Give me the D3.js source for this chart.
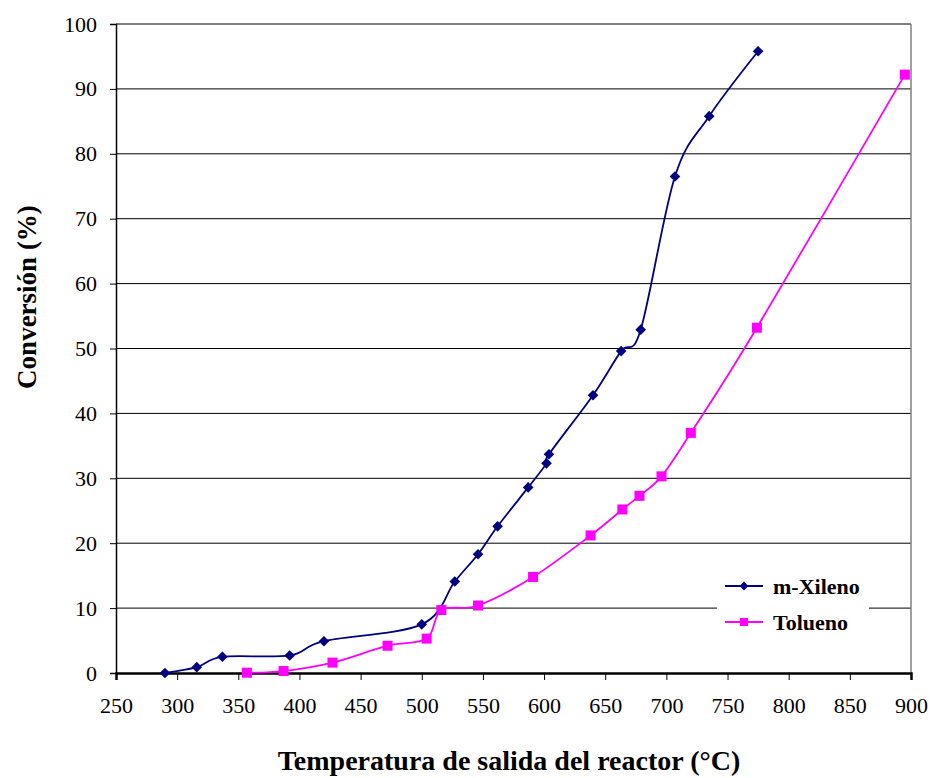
<!DOCTYPE html>
<html>
<head>
<meta charset="utf-8">
<script src="https://cdn.jsdelivr.net/npm/d3@7"></script>
<style>
	body { margin: 0; background: #fff; }
</style>
</head>
<body>
<svg></svg>
<script>
	// data
	var xilenoTemp = [290, 316, 337, 392, 420, 500, 527, 546, 562, 587, 602, 604, 640, 663, 679, 707, 735, 775];
	var xilenoConv = [0, 0.9, 2.5, 2.7, 4.9, 7.5, 14.1, 18.3, 22.6, 28.6, 32.3, 33.7, 42.8, 49.6, 52.9, 76.5, 85.8, 95.8];
	var toluenoTemp = [357, 387, 427, 472, 504, 516, 546, 591, 638, 664, 678, 696, 720, 774, 895];
	var toluenoConv = [0.05, 0.3, 1.6, 4.2, 5.3, 9.7, 10.4, 14.8, 21.2, 25.2, 27.3, 30.3, 37.0, 53.2, 92.2];
	var xTicks = d3.range(250, 901, 50);
	var yTicks = d3.range(0, 101, 10);

	var serif = "'Liberation Serif', 'Times New Roman', serif";
	var width = 932, height = 778;
	var margins = { left: 116, right: 21, top: 24, bottom: 105 };
	var w = width - margins.left - margins.right;
	var h = height - margins.top - margins.bottom;

	var svg = d3.select("svg")
		.attr("width", width)
		.attr("height", height);

	var x = d3.scaleLinear().domain([250, 900]).range([0, w]);
	var y = d3.scaleLinear().domain([0, 100]).range([h, 0]);

	var g = svg.append("g")
		.attr("transform", "translate(" + margins.left + "," + margins.top + ")");

	// grid lines
	g.selectAll(".grid")
		.data(yTicks.filter(d => d > 0))
		.enter().append("line")
		.attr("x1", 0).attr("x2", w)
		.attr("y1", d => y(d)).attr("y2", d => y(d))
		.attr("stroke", "#000").attr("stroke-width", 1);

	// right border of plot area
	g.append("line")
		.attr("x1", w).attr("x2", w).attr("y1", 0).attr("y2", h)
		.attr("stroke", "#808080").attr("stroke-width", 1.5);

	// axes
	var yAxis = g.append("g")
		.call(d3.axisLeft(y).tickValues(yTicks).tickSize(6).tickPadding(13));
	yAxis.select(".domain").attr("stroke", "#000").attr("stroke-width", 1.5);
	yAxis.selectAll(".tick line").attr("stroke", "#000");

	var xAxis = g.append("g")
		.attr("transform", "translate(0," + h + ")")
		.call(d3.axisBottom(x).tickValues(xTicks).tickSize(7).tickPadding(17));
	xAxis.select(".domain").attr("stroke", "#000").attr("stroke-width", 2.5);
	xAxis.selectAll(".tick line").attr("stroke", "#000");

	g.selectAll(".tick text")
		.style("font-family", serif)
		.style("font-size", "22px")
		.attr("fill", "#000");

	// series
	var line = d3.line()
		.curve(d3.curveCardinal.tension(0))
		.x(d => x(d[0]))
		.y(d => y(d[1]));

	var xileno = xilenoTemp.map((t, i) => [t, xilenoConv[i]]);
	var tolueno = toluenoTemp.map((t, i) => [t, toluenoConv[i]]);

	g.append("path")
		.attr("d", line(tolueno))
		.attr("fill", "none")
		.attr("stroke", "#ff00ff")
		.attr("stroke-width", 1.8);
	g.append("path")
		.attr("d", line(xileno))
		.attr("fill", "none")
		.attr("stroke", "#000080")
		.attr("stroke-width", 1.8);

	g.selectAll(".sq")
		.data(tolueno)
		.enter().append("rect")
		.attr("x", d => x(d[0]) - 5)
		.attr("y", d => y(d[1]) - 5)
		.attr("width", 10).attr("height", 10)
		.attr("fill", "#ff00ff");

	var diamond = d3.symbol().type(d3.symbolDiamond2).size(72);
	g.selectAll(".dm")
		.data(xileno)
		.enter().append("path")
		.attr("d", diamond)
		.attr("transform", d => "translate(" + x(d[0]) + "," + y(d[1]) + ")")
		.attr("fill", "#000080");

	// axis titles
	svg.append("text")
		.attr("transform", "translate(36,297) rotate(-90)")
		.attr("text-anchor", "middle")
		.style("font-family", serif)
		.style("font-size", "27px")
		.style("font-weight", "bold")
		.text("Conversión (%)");
	svg.append("text")
		.attr("x", 509)
		.attr("y", 770)
		.attr("text-anchor", "middle")
		.style("font-family", serif)
		.style("font-size", "28px")
		.style("font-weight", "bold")
		.text("Temperatura de salida del reactor (°C)");

	// legend
	var legend = svg.append("g")
		.attr("transform", "translate(717,566)");
	legend.append("rect")
		.attr("width", 152).attr("height", 74)
		.attr("fill", "#fff");
	var items = [
		{ name: "m-Xileno", color: "#000080", marker: "diamond" },
		{ name: "Tolueno", color: "#ff00ff", marker: "square" }
	];
	items.forEach((it, i) => {
		var yy = 20 + i * 36;
		legend.append("line")
			.attr("x1", 8).attr("x2", 46).attr("y1", yy).attr("y2", yy)
			.attr("stroke", it.color).attr("stroke-width", 1.8);
		if (it.marker === "diamond") {
			legend.append("path")
				.attr("d", d3.symbol().type(d3.symbolDiamond2).size(50))
				.attr("transform", "translate(27," + yy + ")")
				.attr("fill", it.color);
		} else {
			legend.append("rect")
				.attr("x", 23).attr("y", yy - 4).attr("width", 8).attr("height", 8)
				.attr("fill", it.color);
		}
		legend.append("text")
			.attr("x", 56).attr("y", yy)
			.attr("dy", "0.35em")
			.style("font-family", serif)
			.style("font-size", "22px")
			.style("font-weight", "bold")
			.text(it.name);
	});
</script>
</body>
</html>
